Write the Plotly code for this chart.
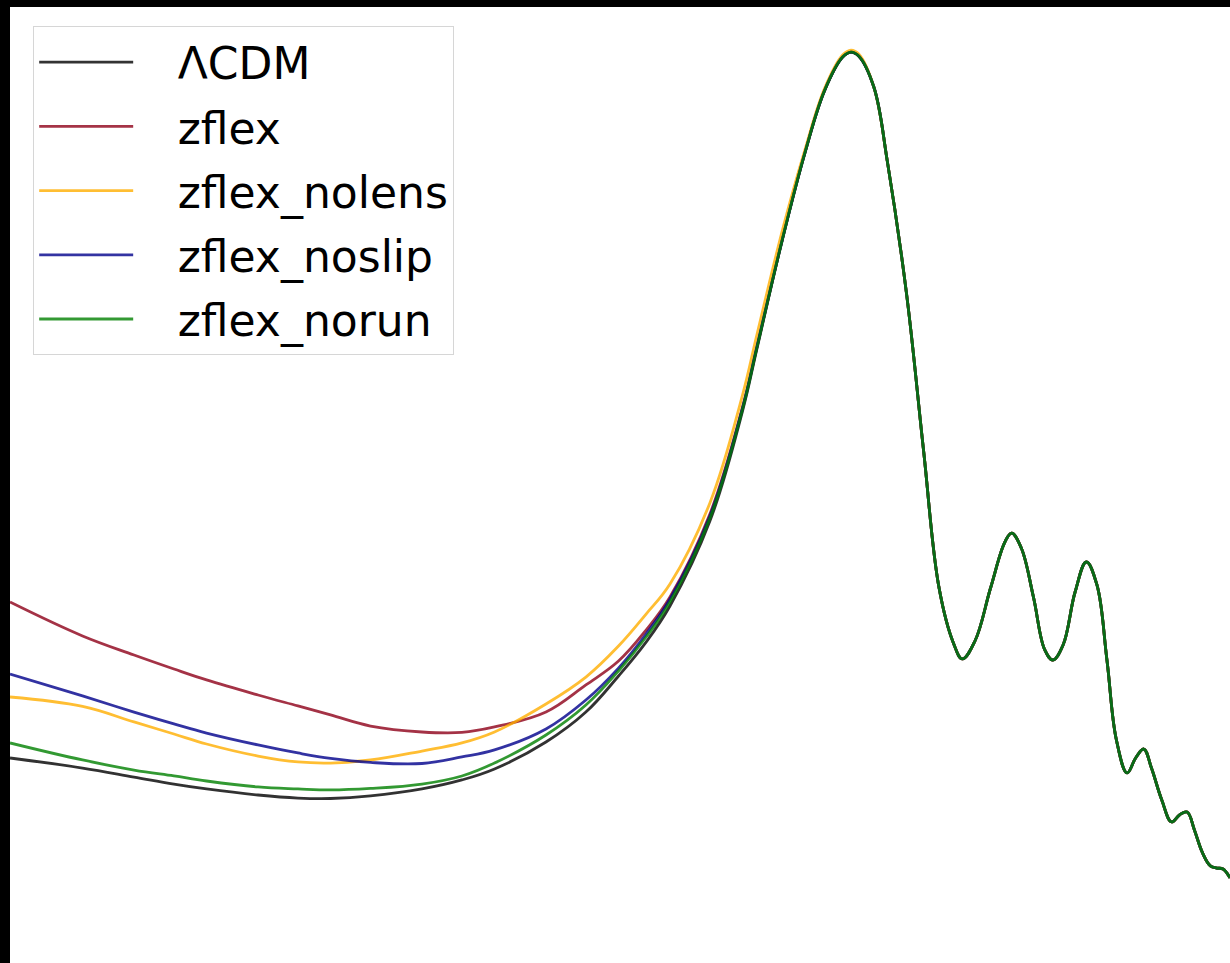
import plotly.graph_objects as go

# multipole values (low-ell part, where the models differ)
ell_low = [2, 3, 4, 5, 6, 8, 10, 12, 15, 20, 25, 30, 40, 50, 60, 70, 80, 100, 120, 130]

lcdm_low = [1097, 1031, 972, 926, 894, 854, 834, 831, 848, 894, 953, 1025, 1202, 1399, 1636, 1859, 2096, 2654, 3377, 3784]
zflex_low = [2122, 1899, 1774, 1682, 1610, 1511, 1439, 1380, 1307, 1268, 1265, 1301, 1399, 1577, 1734, 1938, 2155, 2700, 3403, 3797]
nolens_low = [1498, 1436, 1334, 1255, 1189, 1110, 1071, 1064, 1084, 1143, 1196, 1268, 1452, 1629, 1833, 2043, 2240, 2773, 3482, 3876]
noslip_low = [1649, 1505, 1399, 1321, 1261, 1183, 1130, 1094, 1068, 1061, 1104, 1150, 1288, 1478, 1688, 1912, 2142, 2687, 3397, 3797]
norun_low = [1196, 1084, 1018, 979, 946, 907, 894, 887, 897, 926, 979, 1064, 1248, 1445, 1669, 1892, 2122, 2674, 3390, 3791]

# high-ell part (shared by all models)
ell_tail = [150, 170, 190, 210, 220, 230, 250, 270, 300, 330, 360, 390, 410, 440, 480, 520, 540, 570,
            610, 650, 680, 720, 770, 820, 870, 920, 970, 1030, 1080, 1130, 1180, 1250, 1320, 1380,
            1440, 1500, 1570, 1640, 1700, 1760, 1830]
dl_tail = [4507, 5072, 5486, 5703, 5736, 5709, 5506, 5006, 4152, 3121, 2214, 1853, 1748, 1866, 2214,
           2516, 2575, 2477, 2155, 1807, 1741, 1840, 2188, 2385, 2234, 1741, 1215, 999, 1097, 1156,
           1031, 821, 677, 723, 742, 624, 473, 388, 374, 368, 309]

# nolens is slightly higher around the first peak
nolens_peak = [4566, 5092, 5499, 5716, 5749, 5722]

names = ["ΛCDM", "zflex", "zflex_nolens", "zflex_noslip", "zflex_norun"]
colors = ["#000000", "#8e0018", "#ffae00", "#00008b", "#008000"]

series = [
    lcdm_low + dl_tail,
    zflex_low + dl_tail,
    nolens_low + nolens_peak + dl_tail[len(nolens_peak):],
    noslip_low + dl_tail,
    norun_low + dl_tail,
]
ell_all = ell_low + ell_tail

fig = go.Figure()
for name, col, ys in zip(names, colors, series):
    fig.add_trace(go.Scatter(
        x=ell_all, y=ys, mode="lines", name="\u2002\u2009\u2009" + name, legendgroup=name,
        line=dict(color=col, width=2.8, shape="spline", smoothing=1.1),
        opacity=0.8, hoverinfo="skip",
    ))

fig.update_layout(
    width=1230, height=963,
    margin=dict(l=10, r=0, t=7, b=0, pad=0),
    paper_bgcolor="black",
    plot_bgcolor="white",
    showlegend=True,
    legend=dict(
        x=0.019, y=0.98, xanchor="left", yanchor="top",
        bgcolor="white", bordercolor="#d6d6d6", borderwidth=1,
        font=dict(family="DejaVu Sans", size=44, color="black"),
        itemwidth=94, tracegroupgap=4, traceorder="grouped",
    ),
    xaxis=dict(type="log", range=[0.30103, 3.2625], showgrid=False, zeroline=False,
               showticklabels=False, showline=False, ticks=""),
    yaxis=dict(range=[-250, 6032], showgrid=False, zeroline=False,
               showticklabels=False, showline=False, ticks=""),
)

fig.write_html("out.html")
